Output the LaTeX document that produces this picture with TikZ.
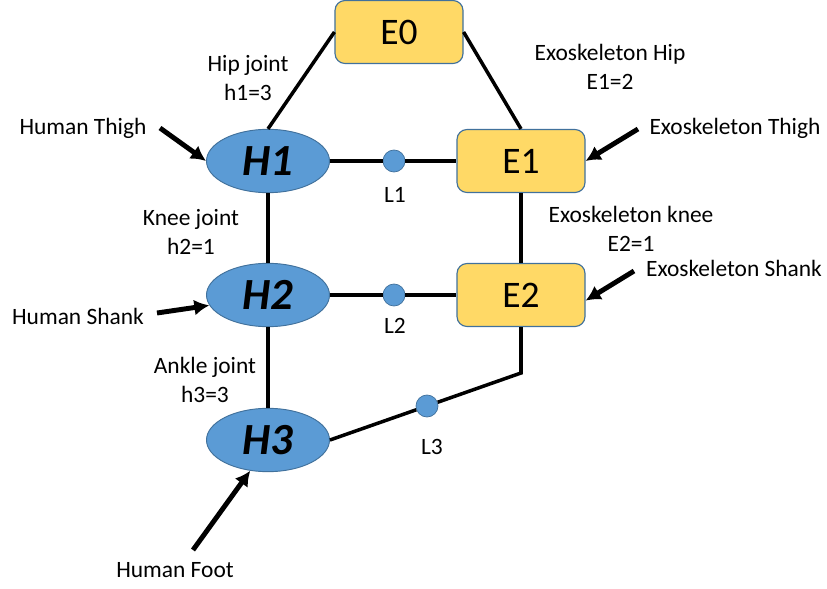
\documentclass[tikz,border=0pt]{standalone}
\usepackage{fontspec}
\setmainfont{Carlito}
\usetikzlibrary{arrows.meta,shapes.geometric}
\definecolor{exoyellow}{HTML}{FFD966}
\definecolor{humanblue}{HTML}{5B9BD5}
\definecolor{rimblue}{HTML}{41719C}

\begin{document}
\begin{tikzpicture}[x=0.03cm, y=-0.03cm,
    lbl/.style={align=center, inner sep=0pt, font=\fontsize{20}{25}\selectfont},
    exo/.style={draw=rimblue, line width=1pt, fill=exoyellow, rounded corners=0.3cm,
      minimum width=3.84cm, minimum height=1.89cm, font=\fontsize{32}{34}\selectfont},
    human/.style={ellipse, draw=rimblue, line width=0.8pt, fill=humanblue, inner sep=0pt,
      minimum width=3.69cm, minimum height=1.9cm, font=\fontsize{38}{40}\selectfont\bfseries\itshape},
    link/.style={circle, draw=rimblue, line width=0.6pt, fill=humanblue, inner sep=0pt, minimum size=0.66cm},
    bone/.style={line width=3pt},
    push/.style={line width=4.2pt, -{Latex[length=0.45cm, width=0.48cm]}}]
  \useasboundingbox (0,0) rectangle (827,589);

  \node[exo] (E0) at (399,32) {E0};
  \node[exo] (E1) at (521,161) {E1};
  \node[exo] (E2) at (521,295) {E2};

  \node[human] (H1) at (268,161) {H1};
  \node[human] (H2) at (268,295) {H2};
  \node[human] (H3) at (268,440) {H3};

  \node[link] (L1) at (394,161) {};
  \node[link] (L2) at (394,295) {};
  \node[link] (L3) at (427,406) {};
  \coordinate (K) at (521,373);

  \draw[bone] (E0.west) -- (H1.north);
  \draw[bone] (E0.east) -- (E1.north);
  \draw[bone] (H1) -- (L1) -- (E1);
  \draw[bone] (H2) -- (L2) -- (E2);
  \draw[bone] (H1) -- (H2) -- (H3);
  \draw[bone] (E1) -- (E2);
  \draw[bone] (E2.south) -- (K) -- (L3) -- (H3.east);

  \node[lbl] (l1) at (395,195) {L1};
  \node[lbl] (l2) at (395,326) {L2};
  \node[lbl] (l3) at (432,447) {L3};

  \node[lbl] (hip) at (248,78) {Hip joint\\h1=3};
  \node[lbl] (knee) at (191,232) {Knee joint\\h2=1};
  \node[lbl] (ankle) at (205,380) {Ankle joint\\h3=3};
  \node[lbl] (ehip) at (610,67) {Exoskeleton Hip\\E1=2};
  \node[lbl] (eknee) at (631,229) {Exoskeleton knee\\E2=1};

  \node[lbl] (hthigh) at (83,128) {Human Thigh};
  \node[lbl] (hshank) at (78,316) {Human Shank};
  \node[lbl] (hfoot) at (175,570) {Human Foot};
  \node[lbl] (ethigh) at (735,128) {Exoskeleton Thigh};
  \node[lbl] (eshank) at (734,268) {Exoskeleton Shank};

  \coordinate (T1) at (160,128);
  \coordinate (T2) at (157,313);
  \coordinate (T3) at (193,550);
  \coordinate (T4) at (638,129);
  \coordinate (T5) at (634,271);

  \draw[push] (T1) -- (H1.west);
  \draw[push] (T2) -- (H2.190);
  \draw[push] (T3) -- (H3.240);
  \draw[push] (T4) -- (E1.east);
  \draw[push] (T5) -- (E2.-5);
\end{tikzpicture}
\end{document}
